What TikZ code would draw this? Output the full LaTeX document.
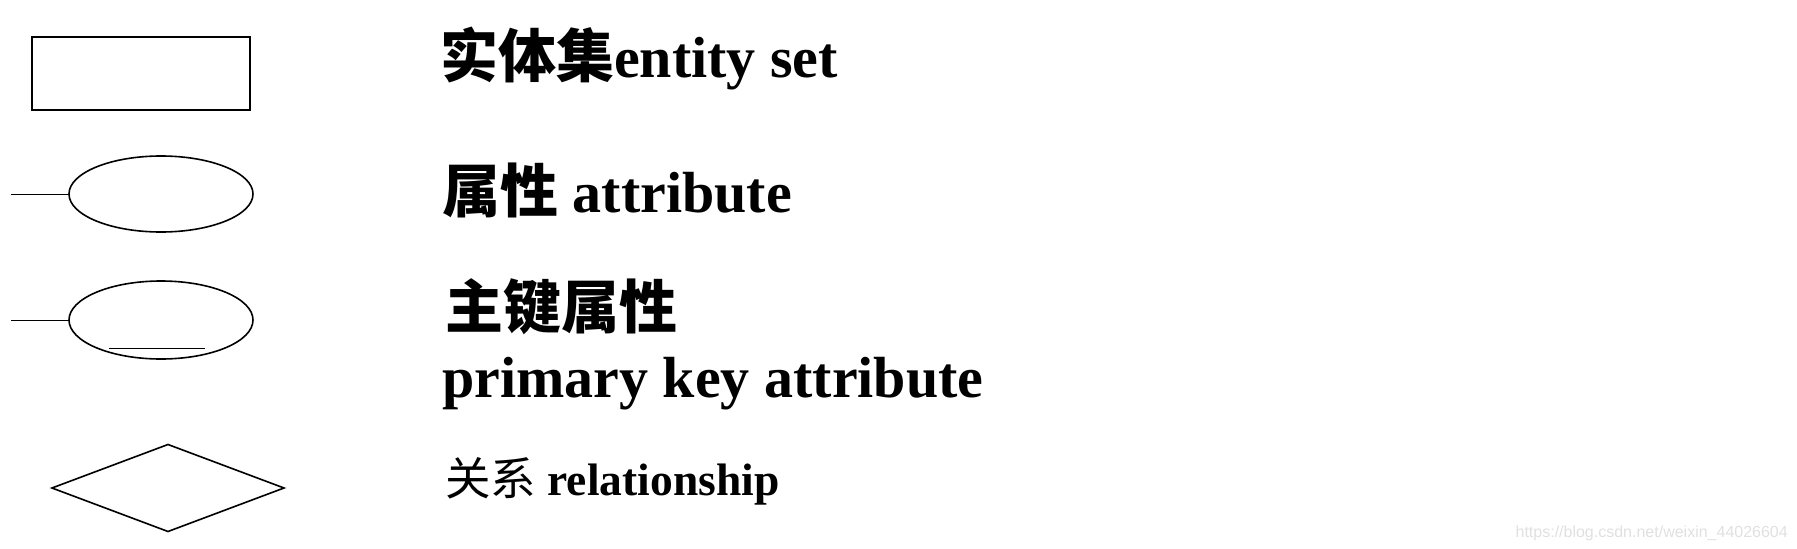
\documentclass[tikz,border=0pt]{standalone}
\usepackage{fontspec}
\setmainfont{Liberation Serif}
\newfontfamily\cjk{Noto Sans CJK SC}
\newfontfamily\wmfont{Liberation Sans}
\usetikzlibrary{shapes.geometric}
\begin{document}
\begin{tikzpicture}[x=1pt,y=-1pt,
  shapeline/.style={draw=black,line width=1.6pt,inner sep=0pt,outer sep=0pt},
  leadline/.style={draw=black,line width=0.9pt},
  lbl/.style={anchor=base west,inner sep=0pt,font=\fontsize{58}{68}\selectfont\bfseries},
  smalllbl/.style={anchor=base west,inner sep=0pt,font=\fontsize{45.5}{52}\selectfont}]
\useasboundingbox (0,0) rectangle (1797,549);
% shapes
\node[shapeline,rectangle,minimum width=218pt,minimum height=73pt] (entity) at (141,73.5) {};
\node[shapeline,ellipse,minimum width=184pt,minimum height=76pt] (attr) at (161,194) {};
\coordinate (attrend) at (11,194);
\draw[leadline] (attrend) -- (attr.west);
\node[shapeline,ellipse,minimum width=184pt,minimum height=78pt] (pk) at (161,320) {};
\coordinate (pkend) at (11,320);
\draw[leadline] (pkend) -- (pk.west);
\coordinate (ula) at (109,348);
\coordinate (ulb) at (205,348);
\draw[leadline] (ula) -- (ulb);
\node[shapeline,diamond,shape aspect=2.67,minimum width=232pt,minimum height=87pt] (rel) at (168,488) {};
% labels
\node[lbl] (t1) at (440,77) {{\cjk 实体集}entity set};
\node[lbl] (t2) at (442,212) {{\cjk 属性} attribute};
\node[lbl] (t3) at (445,328) {{\cjk 主键属性}};
\node[lbl] (t4) at (442,397) {primary key attribute};
\node[smalllbl] (t5) at (445,495) {{\cjk 关系} {\bfseries relationship}};
\node[anchor=base east,inner sep=0pt,font=\wmfont\fontsize{16}{19}\selectfont,text=black!12] (wm) at (1788,537) {https://blog.csdn.net/weixin\_44026604};
\end{tikzpicture}
\end{document}
